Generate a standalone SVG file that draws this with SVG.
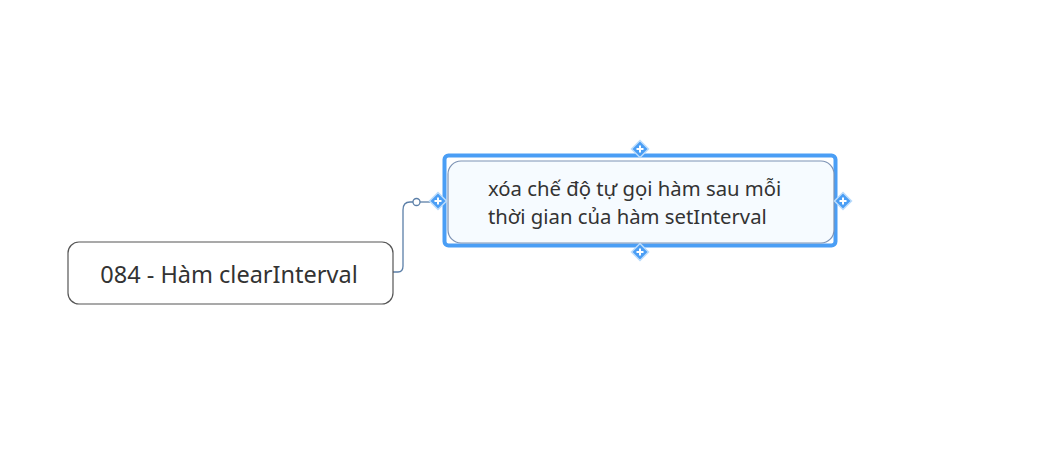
<svg xmlns="http://www.w3.org/2000/svg" width="1042" height="451" viewBox="0 0 1042 451">
<defs>
<style>
.t{font-family:"Noto Sans","Open Sans","DejaVu Sans",sans-serif;fill:#333}
.h{fill:#4a9ef5;stroke:#bcdcfb;stroke-width:1.5}
.p{stroke:#fff;stroke-width:2}
</style>
<g id="handle">
<path class="h" d="M0,-8.5 L8.5,0 L0,8.5 L-8.5,0 Z"/>
<path class="p" d="M-3.5,0 H3.5 M0,-3.5 V3.5"/>
</g>
</defs>
<rect width="1042" height="451" fill="#fff"/>
<g id="connectors" fill="none" stroke="#5b7fa8" stroke-width="1.3">
<path d="M393,272 H398 Q403,272 403,266 V210 Q403,202 410,202 H413"/>
<circle cx="416.5" cy="202" r="3.5" fill="#fff"/>
<path d="M420,202 H430"/>
</g>
<g id="node-root">
<rect x="68" y="242" width="325" height="62" rx="11" fill="#fff" stroke="#555" stroke-width="1.2"/>
<text class="t" x="229" y="283" font-size="23.5" text-anchor="middle">084 - Hàm clearInterval</text>
</g>
<g id="node-child">
<rect x="444.5" y="155.5" width="391" height="90" rx="4" fill="none" stroke="#4a9ef5" stroke-width="4"/>
<rect x="448" y="161" width="386" height="82" rx="13" fill="#f6fbff" stroke="#7d93b5" stroke-width="1.2"/>
<text class="t" x="488" y="196" font-size="20.3">xóa chế độ tự gọi hàm sau mỗi</text>
<text class="t" x="488" y="224" font-size="20.3">thời gian của hàm setInterval</text>
<use href="#handle" x="640" y="149"/>
<use href="#handle" x="640" y="252"/>
<use href="#handle" x="438" y="201"/>
<use href="#handle" x="843" y="201"/>
</g>
</svg>
